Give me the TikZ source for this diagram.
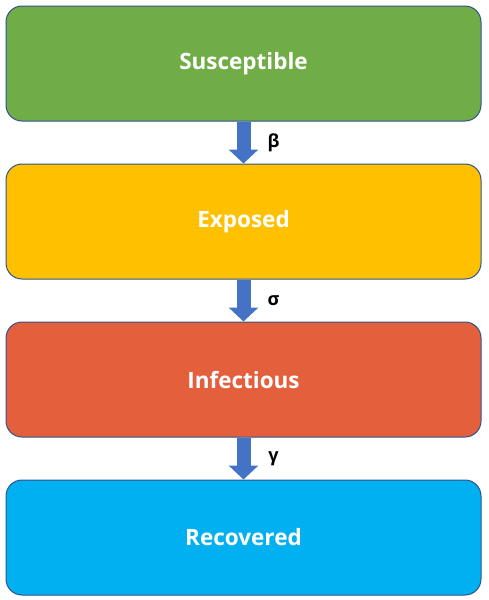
\documentclass[tikz,border=0pt]{standalone}
\usepackage{fontspec}
\setmainfont{Open Sans}
\usepackage{tikz}
\usetikzlibrary{
	positioning,
	arrows.meta
}
\definecolor{sgreen}{HTML}{70AD47}
\definecolor{eyellow}{HTML}{FFC000}
\definecolor{iorange}{HTML}{E45F3C}
\definecolor{rblue}{HTML}{00B0F0}
\definecolor{edgeblue}{HTML}{2F528F}
\definecolor{arrowblue}{HTML}{4472C4}

\begin{document}
\begin{tikzpicture}[x=1pt,y=1pt,
		compartment/.style={draw=edgeblue,line width=1pt,rounded corners=16pt,
			minimum width=475pt,minimum height=115pt,inner sep=0pt,
			text=white,font=\bfseries\fontsize{22.5}{27}\selectfont},
		flow/.style={draw=arrowblue,line width=14pt,-{Triangle[width=29pt,length=14pt]}},
		rate/.style={font=\bfseries\fontsize{18}{21}\selectfont,xshift=30pt}
	]
		\useasboundingbox (0,0) rectangle (488,-600);
		\draw
			node[compartment,fill=sgreen]                   (S) at (243.5,-63.5) {Susceptible}
			node[compartment,fill=eyellow,below=42pt of S] (E) {Exposed}
			node[compartment,fill=iorange,below=42pt of E] (I) {Infectious}
			node[compartment,fill=rblue,below=42pt of I]   (R) {Recovered}

			(S) edge[flow] node[rate]{β} (E)
			(E) edge[flow] node[rate]{σ} (I)
			(I) edge[flow] node[rate]{γ} (R)
		;
	\end{tikzpicture}
\end{document}
